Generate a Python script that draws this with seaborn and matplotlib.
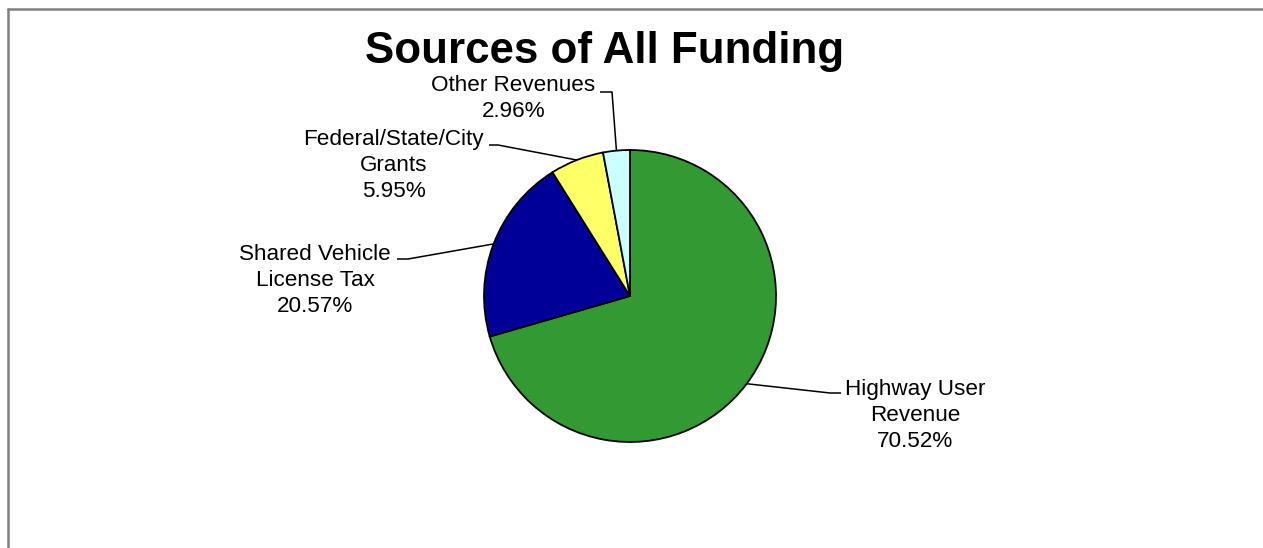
import matplotlib
matplotlib.use("Agg")
import numpy as np
import pandas as pd
import seaborn as sns
import matplotlib.pyplot as plt
from matplotlib.lines import Line2D

# Funding sources and their shares (percent)
sources = ["Highway User\nRevenue", "Shared Vehicle\nLicense Tax",
           "Federal/State/City\nGrants", "Other Revenues"]
shares = [70.52, 20.57, 5.95, 2.96]
colors = ["#339933", "#000099", "#FFFF66", "#CCFFFF"]
title = "Sources of All Funding"

# Label layout in figure pixels: text centre x, last-line baseline y,
# leader end next to the text, and the leader's knee
label_text_px = [(915, 447), (315, 312), (393.5, 197), (513.5, 117)]
leader_end_px = [(841, 393), (397, 259), (489, 145), (600, 92)]
leader_knee_px = [(830, 393), (408, 259), (498, 145), (612, 92)]

W, H, DPI = 1263, 548, 100
CX, CY, R = 630, 296, 146  # pie centre and radius in pixels

sns.set_theme(style="white")
plt.rcParams["font.family"] = ["Liberation Sans", "DejaVu Sans"]

df = pd.DataFrame({"source": sources, "share": shares, "color": colors})

fig = plt.figure(figsize=(W / DPI, H / DPI), dpi=DPI)
fig.patch.set_facecolor("white")
ax = fig.add_axes([0, 0, 1, 1])

wedges, _ = ax.pie(df["share"], colors=df["color"], startangle=90,
                   counterclock=False, radius=1,
                   wedgeprops=dict(edgecolor="black", linewidth=1.3))

# one data unit == pie radius; axes spans the whole figure
ax.set_xlim(-CX / R, (W - CX) / R)
ax.set_ylim(-(H - CY) / R, CY / R)
ax.set_aspect("auto")
ax.axis("off")


def px(p):
    return ((p[0] - CX) / R, (CY - p[1]) / R)


for wedge, name, val, tpos, lend, lknee in zip(
        wedges, df["source"], df["share"], label_text_px,
        leader_end_px, leader_knee_px):
    mid = np.deg2rad((wedge.theta1 + wedge.theta2) / 2)
    edge = (np.cos(mid) * wedge.r, np.sin(mid) * wedge.r)
    e, k = px(lend), px(lknee)
    ax.plot([e[0], k[0], edge[0]], [e[1], k[1], edge[1]],
            color="black", lw=1.1, solid_capstyle="butt", zorder=3)
    tx, ty = px(tpos)
    ax.text(tx, ty, f"{name}\n{val:.2f}%", ha="center", va="baseline",
            multialignment="center", fontsize=16.2, linespacing=1.3,
            color="black")

fig.text(605 / W, 1 - 63 / H, title, ha="center", va="baseline",
         fontsize=31.6, fontweight="bold", color="black")

# chart-area border (top and left edges)
fig.add_artist(Line2D([7.5 / W, 1], [1 - 8.5 / H, 1 - 8.5 / H],
                      transform=fig.transFigure, color="#808080", lw=1.8))
fig.add_artist(Line2D([7.5 / W, 7.5 / W], [0, 1 - 8.5 / H],
                      transform=fig.transFigure, color="#808080", lw=1.8))

fig.savefig("out.png", dpi=DPI, facecolor="white")
